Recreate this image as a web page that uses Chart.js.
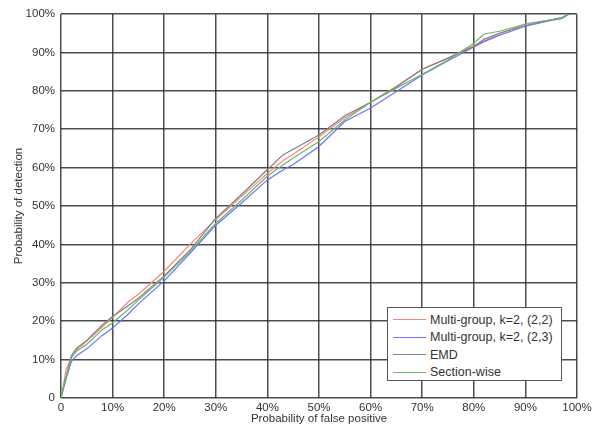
<!DOCTYPE html>
<html>
<head>
<meta charset="utf-8">
<script src="https://cdn.jsdelivr.net/npm/chart.js@4"></script>
<style>
  html, body { margin: 0; padding: 0; background: #fff; }
  #wrap { position: relative; width: 604px; height: 433px; }
  #legend {
    position: absolute; left: 387px; top: 307px; width: 175px; height: 74px;
    border: 1px solid #555; background: #fff; box-sizing: border-box;
    font-family: "Liberation Sans", Arial, sans-serif; font-size: 12.5px; color: #333;
    padding-top: 3px;
  }
  .item { display: flex; align-items: center; height: 17.5px; }
  .swatch { display: inline-block; width: 33px; height: 1px; margin-left: 5px; margin-right: 4px; }
</style>
</head>
<body>
<div id="wrap">
  <canvas id="roc" width="604" height="433"></canvas>
  <div id="legend"></div>
</div>
<script>
// probabilidade de falso positivo (%)
const fpr = [0, 0.5, 1, 2, 3, 5, 8, 10, 13, 15, 20, 25, 30, 35, 40, 43, 45, 50, 55, 60, 65, 70, 75, 80, 82, 85, 90, 95, 97, 98.5, 100];

// probabilidade de deteccao (%) por metodo
const multi22 = [0, 3.5, 7.5, 10.5, 12.5, 14.8, 18.5, 21, 25, 27, 33, 40, 46.5, 52.5, 58.5, 61.8, 63.5, 68, 73, 77, 81.2, 85.6, 88.5, 91.8, 93, 95, 97.4, 98.5, 99, 100, 100];
const multi23 = [0, 2.5, 5, 9.5, 11, 12.8, 16.3, 18.2, 21.8, 24.5, 30.5, 37.7, 45, 50.8, 56.8, 59.4, 60.8, 65.5, 72, 75.5, 79.8, 84.1, 87.8, 91.4, 92.8, 94.5, 96.8, 98.3, 98.8, 100, 100];
const emd = [0, 3, 5.5, 11, 13, 15, 19, 21.2, 24, 26, 31.8, 38.5, 46.8, 53, 59.5, 63.3, 64.8, 68.5, 73.5, 77, 81, 85.6, 88.5, 91.5, 93.5, 95, 97, 98.5, 99, 100, 100];
const sectionWise = [0, 3, 5.5, 10.5, 12.2, 14, 17.8, 19.6, 23, 25.5, 31.5, 38.2, 45.5, 51.5, 57.8, 60.7, 62.5, 66.8, 72.4, 77, 80.7, 84.3, 88, 92.4, 94.8, 95.5, 97.4, 98.5, 99, 100, 100];

const seriesNames = ['Multi-group, k=2, (2,2)', 'Multi-group, k=2, (2,3)', 'EMD', 'Section-wise'];
const seriesColors = ['#ff7f7f', '#6f6fff', '#808080', '#66bb66'];
const seriesData = [multi22, multi23, emd, sectionWise];

const fontFamily = '"Liberation Sans", Arial, sans-serif';

function toPoints(values) {
  return fpr.map((x, i) => ({ x: x, y: values[i] }));
}

// desenha na ordem: verde, cinza, azul, vermelho
const drawOrder = [3, 2, 1, 0];
const datasets = drawOrder.map(i => ({
  label: seriesNames[i],
  data: toPoints(seriesData[i]),
  borderColor: seriesColors[i],
  borderWidth: 1.2,
  pointRadius: 0,
  tension: 0,
  fill: false
}));

const pctTick = v => v === 0 ? '0' : v + '%';

new Chart(document.getElementById('roc'), {
  type: 'line',
  data: { datasets: datasets },
  options: {
    responsive: false,
    animation: false,
    layout: { padding: { top: 14, right: 27, left: 0, bottom: 0 } },
    plugins: {
      legend: { display: false },
      tooltip: { enabled: false }
    },
    scales: {
      x: {
        type: 'linear', min: 0, max: 100,
        afterFit: s => { s.height = 35; },
        grid: { color: 'rgba(45,45,45,0.85)', lineWidth: 1.5, drawTicks: false },
        border: { display: false },
        ticks: {
          stepSize: 10, padding: 3, color: '#333',
          font: { family: fontFamily, size: 11.5 },
          callback: pctTick, maxRotation: 0
        },
        title: {
          display: true, text: 'Probability of false positive', color: '#333',
          font: { family: fontFamily, size: 11.5 }, padding: { top: 0, bottom: 7 }
        }
      },
      y: {
        type: 'linear', min: 0, max: 100,
        afterFit: s => { s.width = 61; },
        grid: { color: 'rgba(45,45,45,0.85)', lineWidth: 1.5, drawTicks: false },
        border: { display: false },
        ticks: {
          stepSize: 10, padding: 6, color: '#333',
          font: { family: fontFamily, size: 11.5 },
          callback: pctTick
        },
        title: {
          display: true, text: 'Probability of detection', color: '#333',
          font: { family: fontFamily, size: 11.5 }, padding: { top: 12, bottom: 0 }
        }
      }
    }
  }
});

// legenda em HTML (caixa no canto inferior direito)
const legend = document.getElementById('legend');
seriesNames.forEach((name, i) => {
  const item = document.createElement('div');
  item.className = 'item';
  item.innerHTML = '<span class="swatch" style="background:' + seriesColors[i] + '"></span><span>' + name + '</span>';
  legend.appendChild(item);
});
</script>
</body>
</html>
